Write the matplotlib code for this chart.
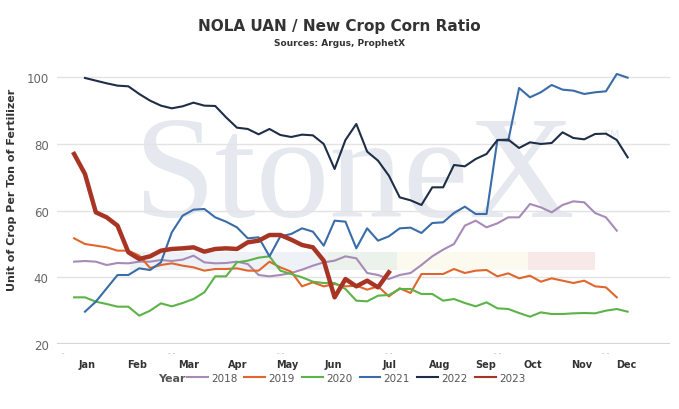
import numpy as np
import matplotlib
matplotlib.use('Agg')
import matplotlib.pyplot as plt
from matplotlib.patches import Rectangle

# weekly values, week index k (first week of Jan ~ 0)
start_2018, y2018 = -1, [44.7, 44.9, 44.7, 43.7, 44.3, 44.2, 44.7, 44.7, 45.2, 44.9, 45.3, 46.5, 44.5,
                         44.2, 44.3, 44.7, 44.0, 40.7, 40.3, 40.7, 41.3, 42.3, 43.5, 44.5, 45.0, 46.3,
                         45.7, 41.3, 40.7, 39.5, 40.7, 41.3, 43.7, 46.3, 48.3, 50.0, 55.5, 57.0, 55.0,
                         56.2, 58.0, 58.0, 62.0, 61.0, 59.5, 61.7, 62.8, 62.5, 59.3, 58.0, 54.0]
start_2019, y2019 = -1, [51.7, 50.0, 49.5, 49.0, 48.0, 48.0, 46.5, 42.8, 43.7, 44.2, 43.5, 43.0, 42.0,
                         42.5, 42.5, 42.7, 42.0, 42.0, 44.7, 43.0, 41.7, 37.3, 38.5, 37.3, 38.0, 37.3,
                         37.5, 36.3, 37.3, 34.3, 36.7, 35.3, 41.0, 41.0, 41.0, 42.5, 41.3, 42.0, 42.2,
                         40.3, 41.2, 39.7, 40.5, 38.7, 39.7, 39.0, 38.3, 39.0, 37.3, 37.0, 34.0]
start_2020, y2020 = -1, [34.0, 34.0, 32.7, 32.0, 31.2, 31.2, 28.5, 30.0, 32.2, 31.3, 32.3, 33.5, 35.5,
                         40.3, 40.3, 44.5, 45.0, 45.9, 46.3, 42.0, 41.0, 40.0, 38.7, 38.3, 38.3, 36.5,
                         33.0, 32.8, 34.5, 34.7, 36.5, 36.5, 35.0, 35.0, 33.0, 33.5, 32.3, 31.3, 32.5,
                         30.7, 30.5, 29.3, 28.2, 29.5, 29.0, 29.0, 29.2, 29.3, 29.2, 30.0, 30.5, 29.7]
start_2021, y2021 = 0, [29.7, 32.7, 36.7, 40.7, 40.7, 42.7, 42.2, 44.5, 53.5, 58.5, 60.3, 60.5, 58.0,
                        56.7, 55.0, 51.7, 52.0, 46.3, 52.3, 53.0, 54.7, 53.7, 49.5, 57.0, 56.7, 48.7,
                        54.7, 51.0, 52.3, 54.7, 54.9, 53.3, 56.3, 56.5, 59.3, 61.2, 59.0, 59.0, 81.2,
                        81.0, 96.8, 94.0, 95.5, 97.7, 96.3, 96.0, 95.0, 95.5, 95.8, 101.0, 99.9]
start_2022, y2022 = 0, [99.8, 99.0, 98.2, 97.5, 97.3, 95.0, 93.0, 91.5, 90.7, 91.3, 92.4, 91.5, 91.4,
                        88.0, 84.9, 84.5, 82.9, 84.5, 82.7, 82.1, 82.8, 82.6, 80.0, 72.5, 81.2, 86.0,
                        77.7, 75.0, 70.5, 64.0, 63.1, 61.7, 67.0, 67.0, 73.7, 73.3, 75.5, 77.0, 81.2,
                        81.3, 78.8, 80.5, 80.0, 80.3, 83.5, 81.8, 81.4, 83.0, 83.1, 81.2, 76.0]
start_2023, y2023 = -1, [77.0, 71.0, 59.5, 58.0, 55.5, 47.5, 45.5, 46.3, 48.0, 48.5, 48.7, 49.0, 47.7,
                         48.5, 48.7, 48.5, 50.5, 51.0, 52.7, 52.7, 51.3, 49.7, 49.0, 45.0, 34.0, 39.5,
                         37.3, 39.0, 37.0, 41.5]

months = ['Jan', 'Feb', 'Mar', 'Apr', 'May', 'Jun', 'Jul', 'Aug', 'Sep', 'Oct', 'Nov', 'Dec']
month_pos = [0.16, 4.82, 9.52, 14.1, 18.6, 22.9, 28.1, 32.7, 36.9, 41.3, 45.8, 49.9]
hidden_pos = [-2, 8, 18, 28, 38, 48]

series = [('2018', start_2018, y2018, '#a78bb6', 1.5),
          ('2019', start_2019, y2019, '#e0662b', 1.5),
          ('2020', start_2020, y2020, '#5cb347', 1.5),
          ('2021', start_2021, y2021, '#3a6ca8', 1.5),
          ('2022', start_2022, y2022, '#1f2e47', 1.5),
          ('2023', start_2023, y2023, '#a83424', 3.2)]

fig = plt.figure(figsize=(6.79, 4.10), dpi=100)
ax = fig.add_axes([0.0839, 0.1585, 0.9028, 0.6749])
ax.set_xlim(-2.58, 53.9)
ax.set_ylim(20, 103)

# watermark
ax.text(133/679, 1 - 217/410, 'StoneX', transform=fig.transFigure, family='Liberation Serif',
        fontsize=106, color='#e5e9ef', ha='left', va='baseline', zorder=0.1)
ax.text(603/679, 1 - 138/410, 'TM', transform=fig.transFigure, family='DejaVu Sans',
        fontsize=8, color='#e5e9ef', ha='left', va='baseline', zorder=0.1)
for x0, x1, c in [(0.119, 0.442, '#eef2f7'), (0.442, 0.555, '#ebf1eb'),
                  (0.555, 0.768, '#fcfaee'), (0.768, 0.878, '#f8e9e9')]:
    ax.add_patch(Rectangle((x0, 0.266), x1 - x0, 0.066, transform=ax.transAxes,
                           facecolor=c, edgecolor='none', zorder=0.2))

for name, s, vals, col, lw in series:
    x = np.arange(s, s + len(vals))
    ax.plot(x, vals, color=col, lw=lw, label=name, zorder=3, solid_joinstyle='round')

ax.set_yticks([20, 40, 60, 80, 100])
ax.grid(axis='y', color='#e3e3e3', lw=1.0)
ax.set_axisbelow(True)
ax.axhline(20, color='#d6d6d6', lw=1.6, zorder=1)
for sp in ax.spines.values():
    sp.set_visible(False)
ax.tick_params(axis='y', length=0, labelsize=8.5, labelcolor='#666666', pad=6)
ax.set_xticks(month_pos)
ax.set_xticklabels(months, fontsize=7, fontweight='bold', color='#333333')
ax.tick_params(axis='x', length=0, pad=11)
for p in hidden_pos:
    ax.text(p, 17.6, '-' if p < 0 else '- -', fontsize=5, color='#aaaaaa', ha='center', va='center')

ax.set_ylabel('Unit of Crop Per Ton of Fertilizer', fontsize=8, fontweight='bold', color='#333333')
ax.yaxis.set_label_coords(-40/613, 0.56)

fig.text(0.5, 1 - 26/410, 'NOLA UAN / New Crop Corn Ratio', ha='center', va='center',
         fontsize=11, fontweight='bold', color='#333333')
fig.text(0.5, 1 - 44/410, 'Sources: Argus, ProphetX', ha='center', va='center',
         fontsize=6.5, fontweight='bold', color='#333333')

fig.text(186/679, 1 - 379/410, 'Year', ha='right', va='center', fontsize=8, fontweight='bold',
         color='#555555')
fig.legend(loc='center', bbox_to_anchor=(356/679, 1 - 379/410), ncol=6, frameon=False,
           fontsize=7.5, handlelength=2.0, handletextpad=0.3, columnspacing=0.7,
           labelcolor='#555555')
for h in fig.legends[0].legend_handles:
    h.set_linewidth(1.5)

fig.savefig('out.png', dpi=100)
